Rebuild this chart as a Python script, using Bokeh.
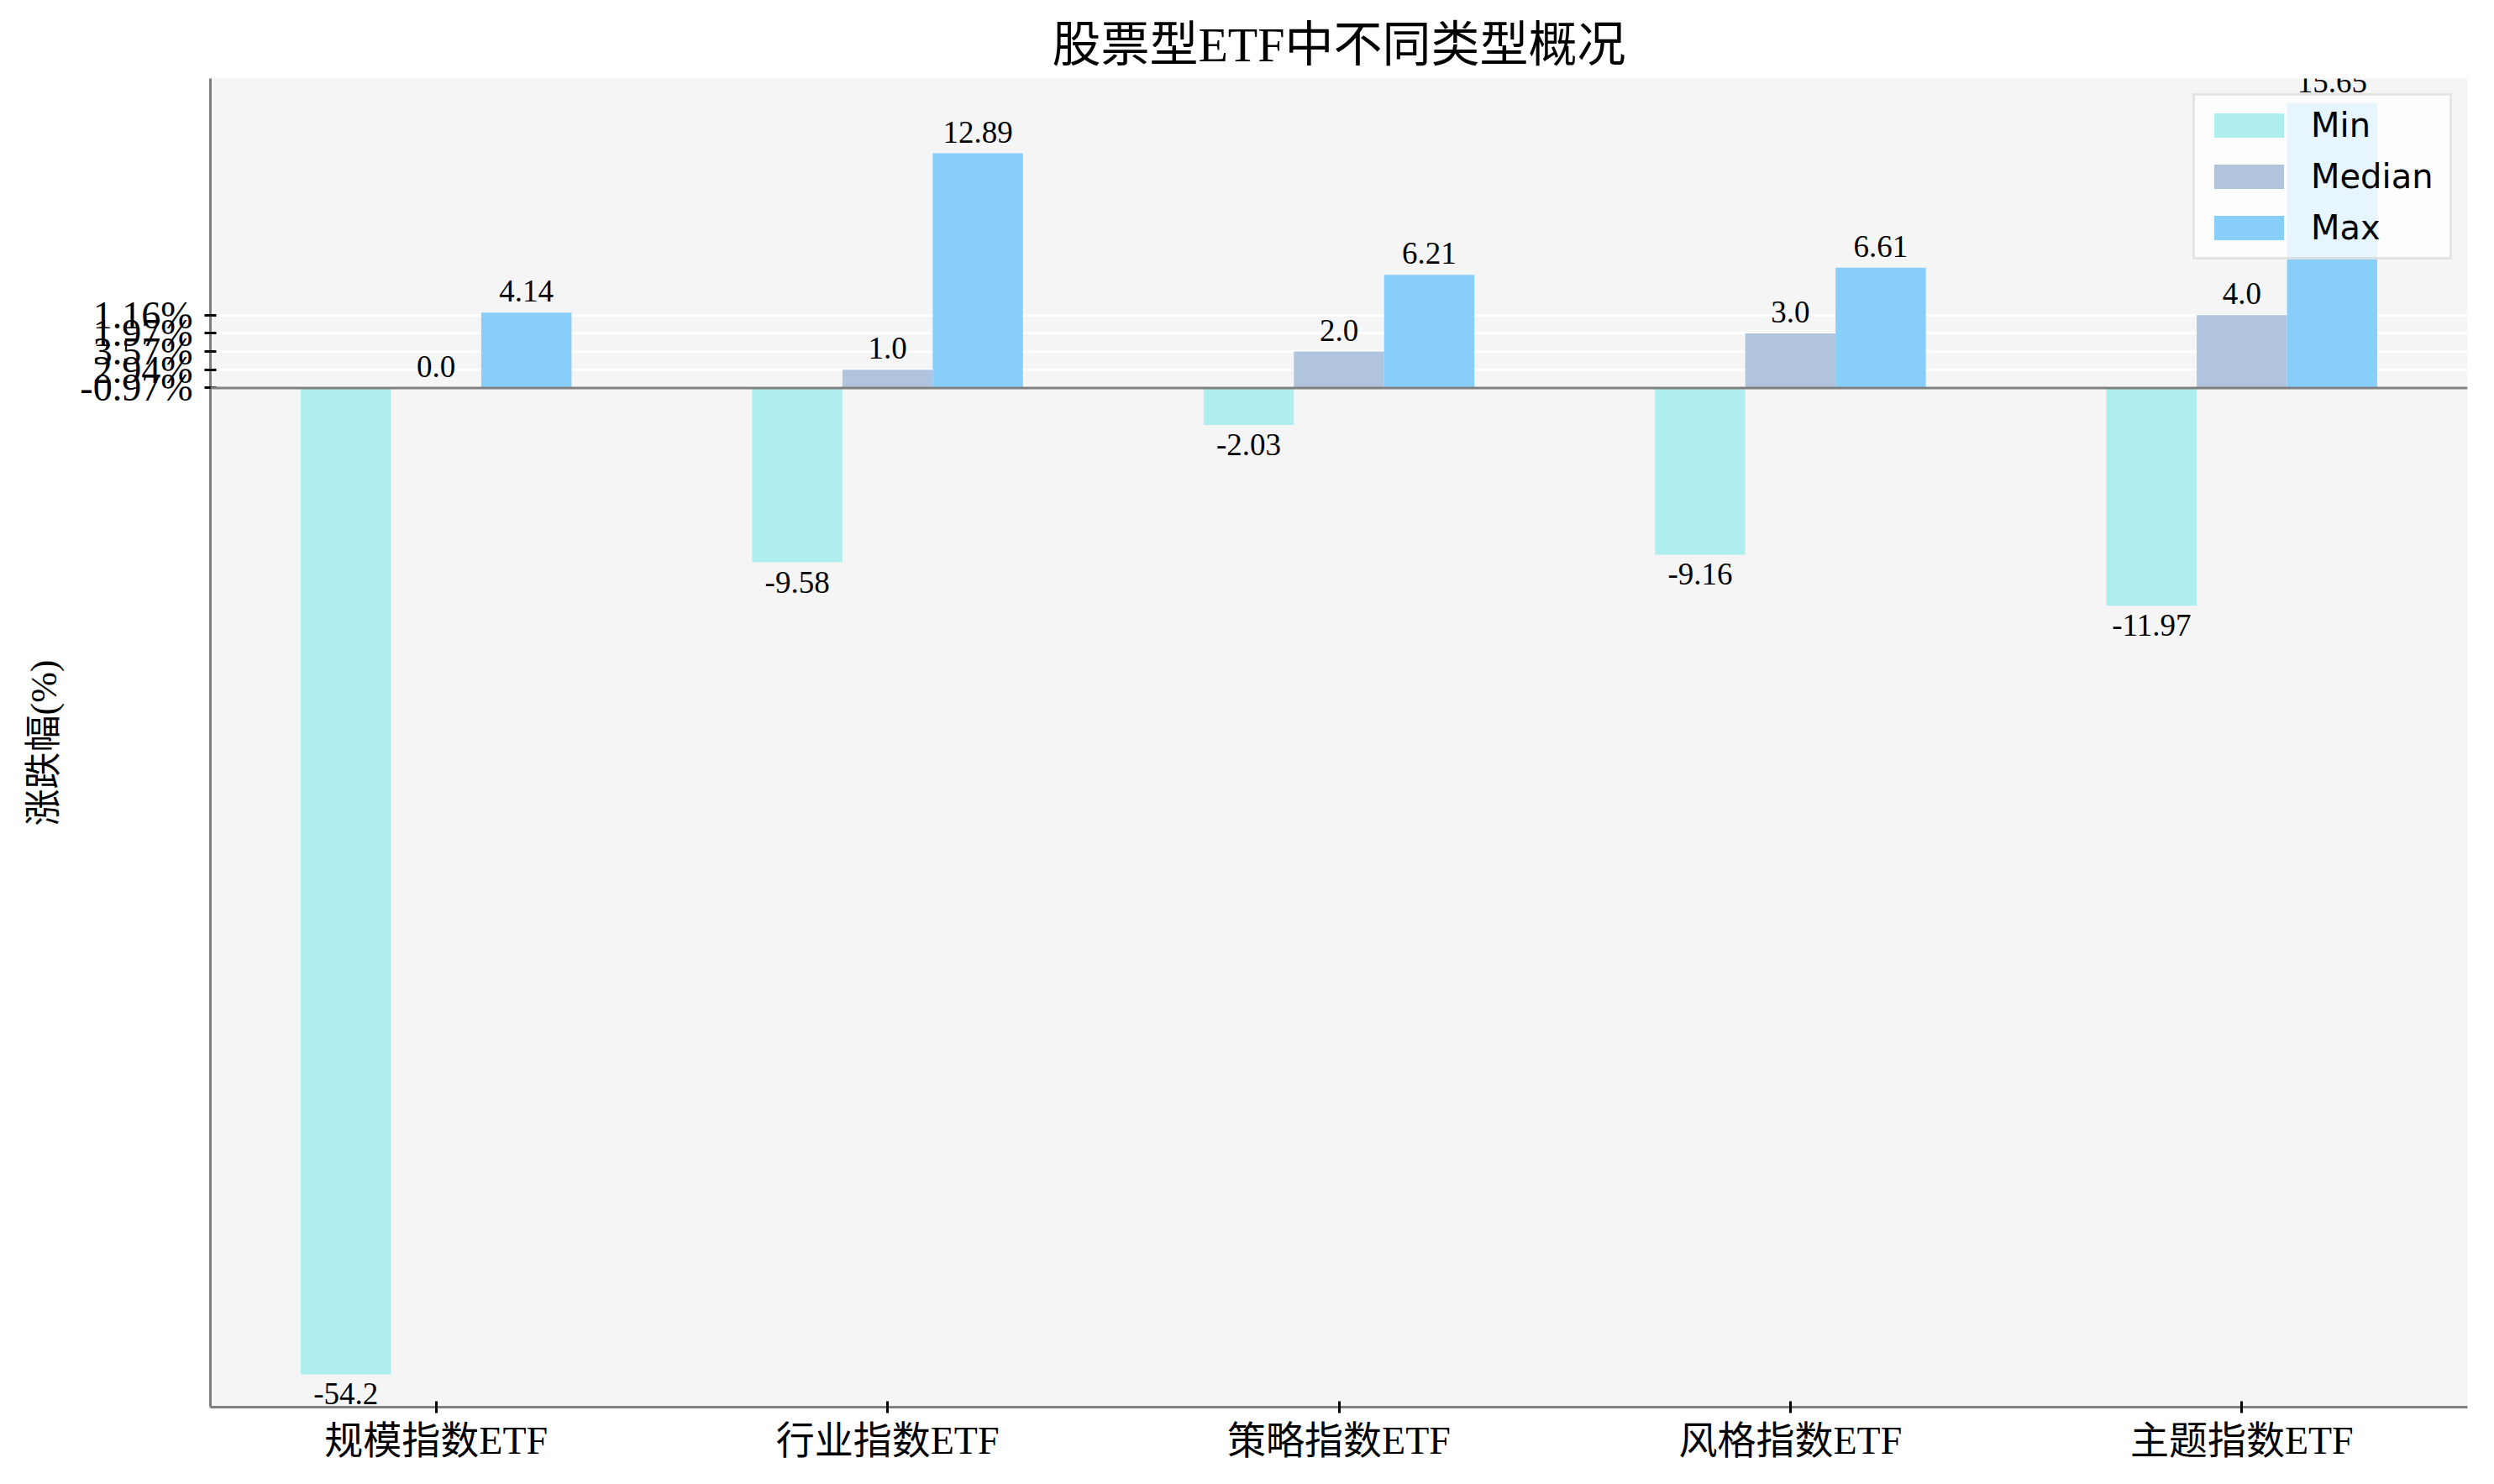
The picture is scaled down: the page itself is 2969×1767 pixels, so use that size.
from bokeh.plotting import figure
from bokeh.models import (ColumnDataSource, FactorRange, Range1d, FixedTicker,
                          Span, Legend, LegendItem)
from bokeh.transform import dodge
from bokeh.core.properties import value
from bokeh.embed import file_html
from bokeh.resources import INLINE

# ---------------- data ----------------
categories = ["规模指数ETF", "行业指数ETF", "策略指数ETF", "风格指数ETF", "主题指数ETF"]
min_values = [-54.2, -9.58, -2.03, -9.16, -11.97]
median_values = [0.0, 1.0, 2.0, 3.0, 4.0]
max_values = [4.14, 12.89, 6.21, 6.61, 15.65]
series_names = ["Min", "Median", "Max"]
y_ticks = [0, 1, 2, 3, 4]
y_tick_labels = ["-0.97%", "2.94%", "3.57%", "1.97%", "1.16%"]

# ---------------- style ----------------
SERIF = "Liberation Serif, Noto Sans CJK SC"
SANS = "DejaVu Sans"
colors = ["#AFEEEE", "#B0C4DE", "#87CEFA"]
offsets = [-0.2, 0.0, 0.2]
bar_width = 0.2

p = figure(
    x_range=FactorRange(factors=categories, range_padding=0),
    y_range=Range1d(-56.0, 17.0),
    width=2953, height=1751,
    output_backend="svg", toolbar_location=None,
    min_border_left=250, min_border_right=16,
    min_border_top=93, min_border_bottom=76,
    title="股票型ETF中不同类型概况",
)

p.background_fill_color = "#f5f5f5"
p.border_fill_color = "white"
p.outline_line_color = None

p.title.text_font = SERIF
p.title.text_font_size = "58px"
p.title.text_font_style = "normal"
p.title.align = "center"
p.title.text_color = "black"
p.title.standoff = 16

# axes
for ax in (p.xaxis[0], p.yaxis[0]):
    ax.axis_line_color = "#808080"
    ax.axis_line_width = 3
    ax.major_tick_line_color = "black"
    ax.major_tick_line_width = 3
    ax.major_tick_in = 7
    ax.major_tick_out = 7
    ax.minor_tick_line_color = None
    ax.major_label_text_font = SERIF
    ax.major_label_text_font_size = "46px"
    ax.major_label_text_color = "black"

p.xaxis.major_label_standoff = 7
p.xaxis.group_text_font_size = "0px"

p.yaxis.ticker = FixedTicker(ticks=y_ticks)
p.yaxis.major_label_overrides = {t: lab for t, lab in zip(y_ticks, y_tick_labels)}
p.yaxis.major_label_standoff = 14
p.yaxis.axis_label = "涨跌幅(%)"
p.yaxis.axis_label_text_font = SERIF
p.yaxis.axis_label_text_font_size = "44px"
p.yaxis.axis_label_text_font_style = "normal"
p.yaxis.axis_label_standoff = 15
p.yaxis.axis_label_text_color = "black"

p.xgrid.grid_line_color = None
p.ygrid.grid_line_color = "white"
p.ygrid.grid_line_width = 3

source = ColumnDataSource(dict(cat=categories, Min=min_values,
                               Median=median_values, Max=max_values))

renderers = []
for name, col, off in zip(series_names, colors, offsets):
    r = p.vbar(x=dodge("cat", off, range=p.x_range), top=name, bottom=0,
               width=bar_width, source=source, fill_color=col, line_color=None)
    renderers.append(r)

    vals = source.data[name]
    pos = [i for i, v in enumerate(vals) if v >= 0]
    neg = [i for i, v in enumerate(vals) if v < 0]
    for idx, baseline, yoff in ((pos, "bottom", -13), (neg, "top", 11)):
        if not idx:
            continue
        lab_src = ColumnDataSource(dict(
            cat=[categories[i] for i in idx],
            y=[vals[i] for i in idx],
            txt=[str(vals[i]) for i in idx]))
        p.text(x=dodge("cat", off, range=p.x_range), y="y", text="txt",
               source=lab_src, text_align="center", text_baseline=baseline,
               y_offset=yoff, text_font=value(SERIF), text_font_size="37px",
               text_color="black")

p.add_layout(Span(location=0, dimension="width", line_color="#808080",
                  line_width=3))

legend = Legend(items=[LegendItem(label=n, renderers=[r])
                       for n, r in zip(series_names, renderers)],
                location="top_right")
legend.margin = 18
legend.padding = 12
legend.spacing = 15
legend.glyph_width = 104
legend.glyph_height = 36
legend.label_standoff = 22
legend.label_width = 153
legend.label_text_font = SANS
legend.label_text_font_size = "40px"
legend.label_text_color = "black"
legend.border_line_color = "#cccccc"
legend.border_line_width = 3
legend.background_fill_color = "white"
legend.background_fill_alpha = 0.8
p.add_layout(legend, "center")

open("out.html", "w").write(file_html(p, INLINE))
